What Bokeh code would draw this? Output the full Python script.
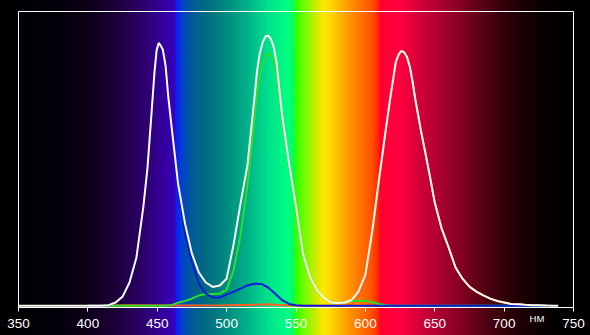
from bokeh.plotting import figure
from bokeh.models import Range1d, FixedTicker, Label
from bokeh.embed import file_html
from bokeh.resources import INLINE

# ---------------- data ----------------
wl_white = [350, 360, 370, 380, 390, 400, 410, 415, 420, 425, 430, 435, 440, 443, 446, 448,
            449.5, 451, 452.5, 454, 456, 458, 460, 465, 470, 475, 480, 485, 490, 495, 500,
            505, 510, 515, 520, 522, 524, 526, 528, 530, 532, 534, 536, 538, 540, 545, 550,
            555, 560, 565, 570, 575, 580, 585, 590, 595, 600, 605, 610, 615, 618, 620, 622,
            624, 626, 628, 630, 632, 634, 636, 640, 645, 650, 655, 660, 665, 670, 675, 680,
            685, 690, 695, 700, 705, 710, 715, 720, 725, 730, 735, 739]
white = [0, 0, 0, 0, 0, 0, 0, 0.002, 0.011, 0.031, 0.079, 0.164, 0.337, 0.47, 0.663, 0.793,
         0.867, 0.893, 0.884, 0.871, 0.816, 0.708, 0.623, 0.415, 0.279, 0.177, 0.113, 0.079,
         0.064, 0.069, 0.092, 0.208, 0.347, 0.477, 0.704, 0.799, 0.861, 0.895, 0.915, 0.918,
         0.905, 0.878, 0.827, 0.735, 0.646, 0.483, 0.337, 0.177, 0.099, 0.053, 0.028, 0.012,
         0.009, 0.011, 0.019, 0.048, 0.106, 0.256, 0.436, 0.609, 0.708, 0.769, 0.830, 0.854,
         0.866, 0.861, 0.845, 0.813, 0.762, 0.701, 0.596, 0.477, 0.351, 0.262, 0.198, 0.130,
         0.092, 0.065, 0.048, 0.035, 0.024, 0.016, 0.011, 0.006, 0.005, 0.003, 0.002, 0.002,
         0.001, 0, 0]

wl_blue = [400, 410, 415, 420, 425, 430, 435, 440, 443, 446, 448, 449.5, 451, 452.5, 454, 456,
           458, 460, 465, 470, 475, 480, 485, 490, 495, 500, 505, 510, 515, 520, 525, 530, 535,
           540, 545, 550, 555, 600, 650, 700, 730]
blue = [0, 0, 0.002, 0.011, 0.031, 0.079, 0.164, 0.337, 0.47, 0.663, 0.79, 0.862, 0.888,
        0.879, 0.866, 0.81, 0.70, 0.61, 0.40, 0.245, 0.147, 0.075, 0.041, 0.028, 0.028, 0.038,
        0.047, 0.058, 0.069, 0.075, 0.074, 0.062, 0.041, 0.019, 0.006, 0.002, 0, 0, 0, 0, 0]

wl_green = [400, 450, 455, 460, 465, 470, 475, 480, 485, 490, 495, 500, 505, 510, 515, 520, 522,
            524, 526, 528, 530, 532, 534, 536, 538, 540, 545, 550, 555, 560, 565, 570, 575, 580,
            585, 590, 595, 600, 605, 610, 615, 620, 700, 730]
green = [0, 0, 0, 0.002, 0.010, 0.016, 0.024, 0.035, 0.040, 0.040, 0.041, 0.055, 0.120, 0.239,
         0.409, 0.630, 0.725, 0.789, 0.825, 0.849, 0.857, 0.850, 0.833, 0.790, 0.707, 0.627,
         0.475, 0.334, 0.175, 0.098, 0.052, 0.028, 0.013, 0.009, 0.012, 0.016, 0.017, 0.016,
         0.012, 0.006, 0.002, 0, 0, 0]

wl_red = [400, 430, 470, 500, 525, 530, 535, 545, 570, 585, 590, 595, 600, 605, 610, 615, 618,
          620, 622, 624, 626, 628, 630, 632, 634, 636, 640, 645, 650, 655, 660, 665, 670, 675,
          680, 685, 690, 695, 700, 705, 710, 715, 720, 725, 730]
red = [0, 0.002, 0.001, 0.002, 0.004, 0.005, 0.003, 0.001, 0, 0, 0.003, 0.031, 0.09, 0.244,
       0.430, 0.607, 0.708, 0.769, 0.830, 0.854, 0.866, 0.861, 0.845, 0.813, 0.762, 0.701,
       0.596, 0.477, 0.351, 0.262, 0.198, 0.130, 0.092, 0.065, 0.048, 0.035, 0.024, 0.016,
       0.011, 0.006, 0.005, 0.003, 0.002, 0.001, 0]

tick_values = [350, 400, 450, 500, 550, 600, 650, 700, 750]
unit_label = "НМ"

# spectrum background colours (wavelength, colour)
spectrum_stops = [
    (330, "#000000"), (380, "#04000a"), (400, "#0c0018"), (420, "#1c0038"),
    (440, "#2c0068"), (455, "#3400a0"), (462.5, "#3800b8"), (464.5, "#0a20f8"),
    (468, "#0040d0"), (475, "#005a98"), (485, "#006a80"), (500, "#008a80"),
    (515, "#00b088"), (530, "#00e08c"), (545, "#00ff80"), (548.5, "#00ff60"),
    (550, "#30ff00"), (555, "#60ff00"), (562, "#b0f000"), (570, "#ffe800"),
    (575, "#ffd800"), (590, "#ff9000"), (605, "#ff5000"), (609.5, "#ff2800"),
    (611, "#ff0030"), (625, "#ff0040"), (640, "#d00038"), (655, "#a80030"),
    (670, "#800020"), (690, "#480010"), (710, "#200004"), (730, "#080000"),
    (745, "#000000"), (770, "#000000"),
]

# ---------------- layout ----------------
W, H = 590, 335
LEFT, RIGHT, TOP, BOTTOM = 18, 17, 11, 28
X0, X1 = 350, 750
px_per_nm = (W - LEFT - RIGHT) / (X1 - X0)

stops_css = ", ".join(
    f"{c} {LEFT + (wl - X0) * px_per_nm:.1f}px" for wl, c in spectrum_stops
)

p = figure(width=W, height=H, output_backend="svg", toolbar_location=None,
           x_range=Range1d(X0, X1), y_range=Range1d(-0.006, 1.0),
           y_axis_location=None, min_border_left=LEFT, min_border_right=RIGHT,
           min_border_top=TOP, min_border_bottom=BOTTOM)
p.styles = {"background-image": f"linear-gradient(to right, {stops_css})"}
p.background_fill_alpha = 0
p.border_fill_alpha = 0
p.grid.visible = False
p.outline_line_color = "white"
p.outline_line_width = 1

ax = p.xaxis[0]
ax.ticker = FixedTicker(ticks=tick_values)
ax.axis_line_color = None
ax.major_tick_line_color = "white"
ax.major_tick_in = 0
ax.major_tick_out = 4
ax.minor_tick_line_color = None
ax.major_label_text_color = "white"
ax.major_label_text_font = "Liberation Sans"
ax.major_label_text_font_size = "13.5px"
ax.major_label_standoff = 7

p.line(wl_red, red, line_color="#ff6020", line_width=2)
p.line(wl_green, green, line_color="#28e028", line_width=2)
p.line(wl_blue, blue, line_color="#0a1ed2", line_width=2)
p.line(wl_white, white, line_color="#fffaf0", line_width=2)

# unit label sits in the right side panel (not clipped to the frame);
# screen offsets are relative to that panel's left/bottom edge
p.add_layout(Label(x=-36.5, y=-11, x_units="screen", y_units="screen", text=unit_label,
                   text_color="white", text_font="Liberation Sans",
                   text_font_size="9.5px", text_align="center",
                   text_baseline="alphabetic"), "right")

open("out.html", "w").write(file_html(p, INLINE))
